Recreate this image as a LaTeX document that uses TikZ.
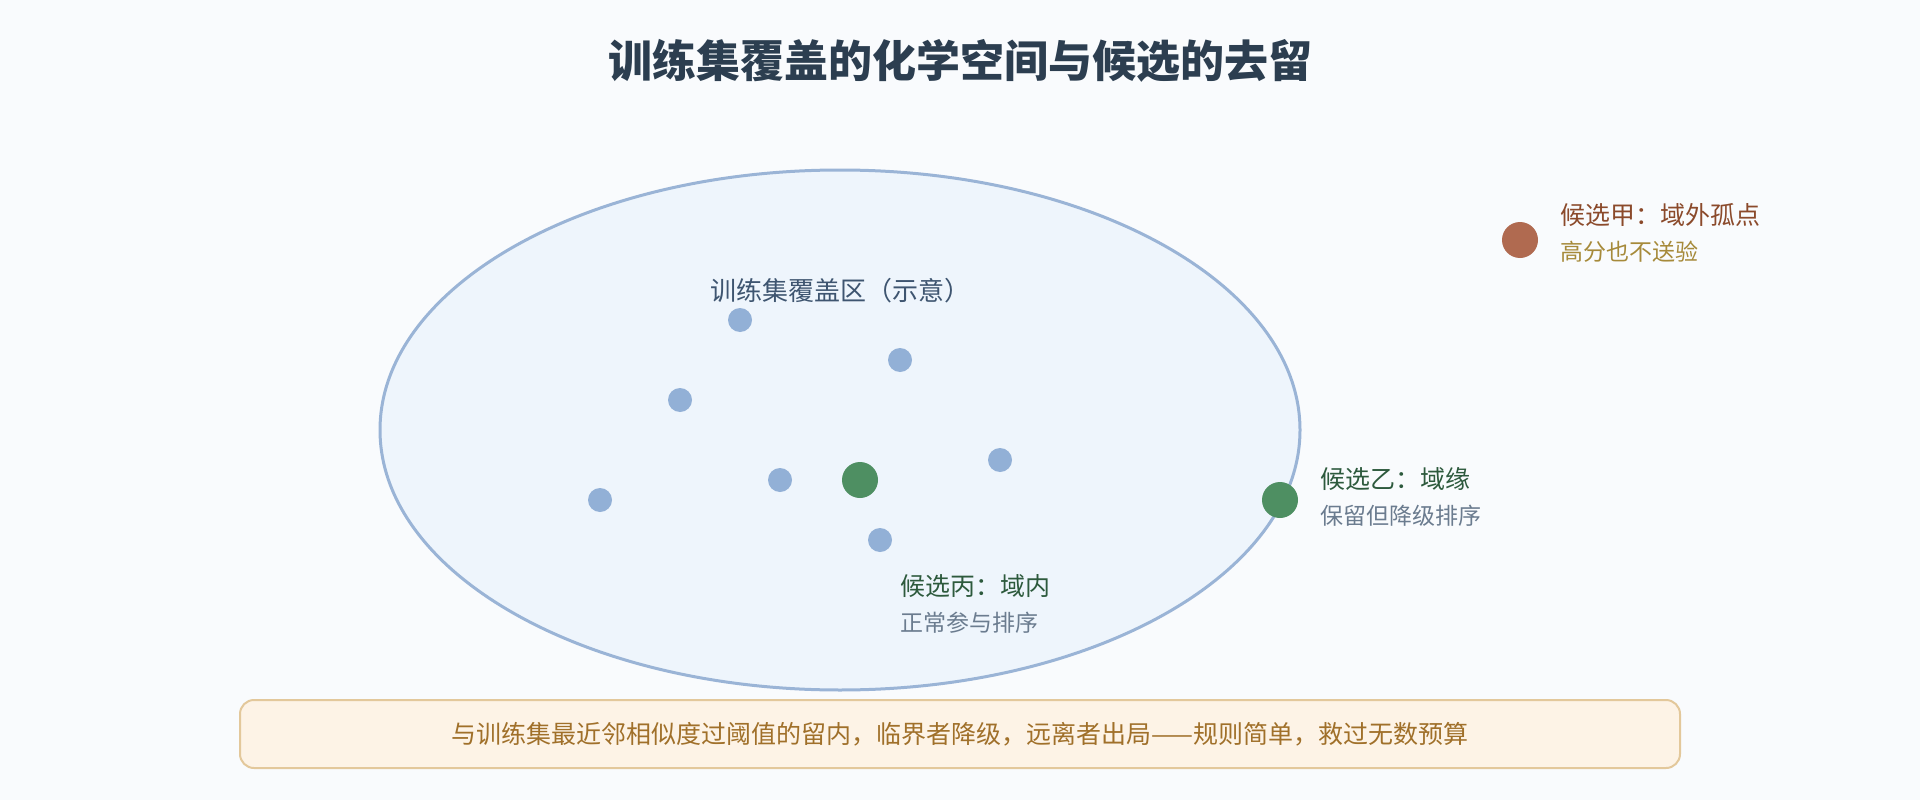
\documentclass[tikz,border=0pt]{standalone}
\usepackage{fontspec}
\usetikzlibrary{shapes.geometric}
\setmainfont{Noto Sans CJK SC}
\definecolor{bg}{HTML}{F9FBFD}
\definecolor{titlec}{HTML}{2C3E50}
\definecolor{ellfill}{HTML}{EEF5FC}
\definecolor{elldraw}{HTML}{9AB4D6}
\definecolor{dotblue}{HTML}{92B0D6}
\definecolor{dotgreen}{HTML}{4E8F62}
\definecolor{dotbrown}{HTML}{B06A50}
\definecolor{labc}{HTML}{3E5570}
\definecolor{brownt}{HTML}{8B4A2B}
\definecolor{goldt}{HTML}{A68A3A}
\definecolor{greent}{HTML}{2D5A3D}
\definecolor{grayt}{HTML}{6B7C8F}
\definecolor{boxfill}{HTML}{FDF3E6}
\definecolor{boxdraw}{HTML}{E3C89B}
\definecolor{boxtext}{HTML}{A0702A}
\begin{document}
\begin{tikzpicture}[x=1pt,y=-1pt,
  tdot/.style={circle,fill=dotblue,minimum size=24pt,inner sep=0pt},
  gdot/.style={circle,fill=dotgreen,minimum size=36pt,inner sep=0pt},
  bdot/.style={circle,fill=dotbrown,minimum size=36pt,inner sep=0pt},
  headtxt/.style={anchor=west,inner sep=0pt,font=\fontsize{25}{30}\selectfont},
  subtxt/.style={anchor=west,inner sep=0pt,font=\fontsize{23}{28}\selectfont}]
\fill[bg] (0,0) rectangle (1920,800);
\useasboundingbox (0,0) rectangle (1920,800);
\node[font=\fontsize{44}{52}\selectfont\bfseries,text=titlec,inner sep=0pt] (title) at (960,61) {训练集覆盖的化学空间与候选的去留};
\node[ellipse,draw=elldraw,fill=ellfill,line width=3pt,minimum width=920pt,minimum height=520pt,inner sep=0pt] (zone) at (840,430) {};
\node[text=labc,font=\fontsize{26}{30}\selectfont,inner sep=0pt] (zlab) at (840,291) {训练集覆盖区（示意）};
\node[tdot] (t1) at (740,320) {};
\node[tdot] (t2) at (900,360) {};
\node[tdot] (t3) at (680,400) {};
\node[tdot] (t4) at (780,480) {};
\node[tdot] (t5) at (1000,460) {};
\node[tdot] (t6) at (600,500) {};
\node[tdot] (t7) at (880,540) {};
\node[gdot] (c3) at (860,480) {};
\node[gdot] (c2) at (1280,500) {};
\node[bdot] (c1) at (1520,240) {};
\node[headtxt,text=brownt] (c1a) at (1560,215) {候选甲：域外孤点};
\node[subtxt,text=goldt] (c1b) at (1560,252) {高分也不送验};
\node[headtxt,text=greent] (c2a) at (1320,479) {候选乙：域缘};
\node[subtxt,text=grayt] (c2b) at (1320,516) {保留但降级排序};
\node[headtxt,text=greent] (c3a) at (900,586) {候选丙：域内};
\node[subtxt,text=grayt] (c3b) at (900,623) {正常参与排序};
\node[draw=boxdraw,fill=boxfill,line width=2pt,rounded corners=14pt,minimum width=1440pt,minimum height=68pt,inner sep=0pt] (footbox) at (960,734) {};
\node[text=boxtext,font=\fontsize{25}{30}\selectfont,inner sep=0pt] (foot) at (footbox.center) {与训练集最近邻相似度过阈值的留内，临界者降级，远离者出局——规则简单，救过无数预算};
\end{tikzpicture}
\end{document}
